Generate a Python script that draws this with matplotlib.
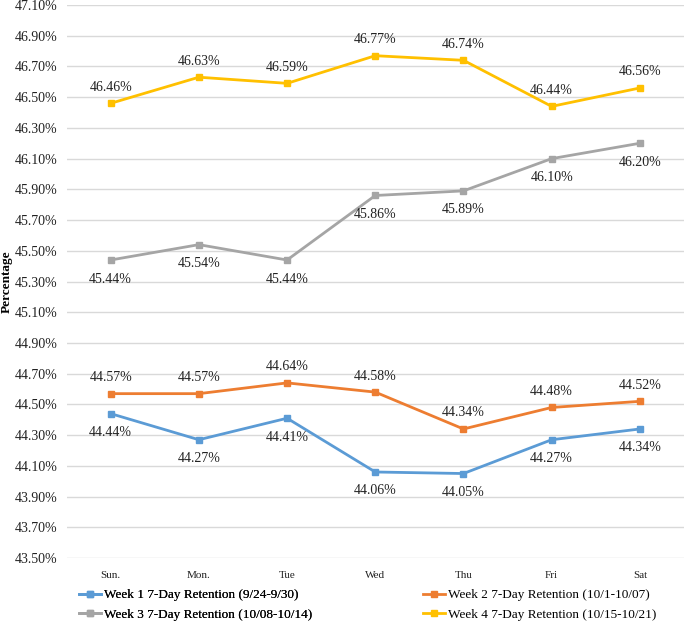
import matplotlib
matplotlib.use("Agg")
import matplotlib.pyplot as plt
import matplotlib.ticker as mticker
import numpy as np

plt.rcParams['font.family'] = ['Liberation Serif', 'DejaVu Serif']

days = ['Sun.', 'Mon.', 'Tue', 'Wed', 'Thu', 'Fri', 'Sat']

week1 = [44.44, 44.27, 44.41, 44.06, 44.05, 44.27, 44.34]
week2 = [44.57, 44.57, 44.64, 44.58, 44.34, 44.48, 44.52]
week3 = [45.44, 45.54, 45.44, 45.86, 45.89, 46.10, 46.20]
week4 = [46.46, 46.63, 46.59, 46.77, 46.74, 46.44, 46.56]

names = ['Week 1 7-Day Retention (9/24-9/30)',
         'Week 2 7-Day Retention (10/1-10/07)',
         'Week 3 7-Day Retention (10/08-10/14)',
         'Week 4 7-Day Retention (10/15-10/21)']

colors = ['#5B9BD5', '#ED7D31', '#A5A5A5', '#FFC000']
# label above (+) or below (-) the point, in pixels
offs = [-19, 16, -19, 16]

fig = plt.figure(figsize=(6.85, 6.26), dpi=100)
ax = fig.add_axes([0.0972, 0.1086, 0.9013, 0.8834])

x = np.arange(len(days))
lines = []
for vals, c, off, nm in zip([week1, week2, week3, week4], colors, offs, names):
    ln, = ax.plot(x, vals, color=c, lw=2.0, marker='s', markersize=4.5,
                  label=nm, zorder=3)
    lines.append(ln)
    for xi, v in zip(x, vals):
        ax.annotate("{:.2f}%".format(v), (xi, v), xytext=(0, off),
                    textcoords='offset pixels',
                    ha='center', va='center', fontsize=10, color='#222222')

ax.set_xlim(-0.5, len(days) - 0.5)
ax.set_ylim(43.5, 47.1)
ax.set_yticks(np.arange(43.5, 47.1001, 0.2))
ax.yaxis.set_major_formatter(mticker.FuncFormatter(lambda v, p: "{:.2f}%".format(v)))
ax.set_xticks(x)
ax.set_xticklabels(days, fontsize=8)
ax.tick_params(axis='y', labelsize=10, length=0, pad=6.5, colors='#222222')
ax.tick_params(axis='x', length=0, pad=9, colors='#222222')
ax.grid(axis='y', color='#D9D9D9', lw=1)
ax.set_axisbelow(True)
for s in ax.spines.values():
    s.set_visible(False)

fig.text(0.010, 0.5508, 'Percentage', rotation=90, fontsize=9.5,
         fontweight='bold', ha='center', va='center')

leg_kw = dict(frameon=False, fontsize=9.5, borderpad=0, borderaxespad=0,
              handlelength=1.7, handletextpad=0.2, labelspacing=0.55,
              loc='upper left')
leg1 = fig.legend([lines[0], lines[2]], [names[0], names[2]],
                  bbox_to_anchor=(79 / 685, 1 - 589 / 626), **leg_kw)
fig.add_artist(leg1)
fig.legend([lines[1], lines[3]], [names[1], names[3]],
           bbox_to_anchor=(423 / 685, 1 - 589 / 626), **leg_kw)

fig.savefig('out.png', dpi=100)
